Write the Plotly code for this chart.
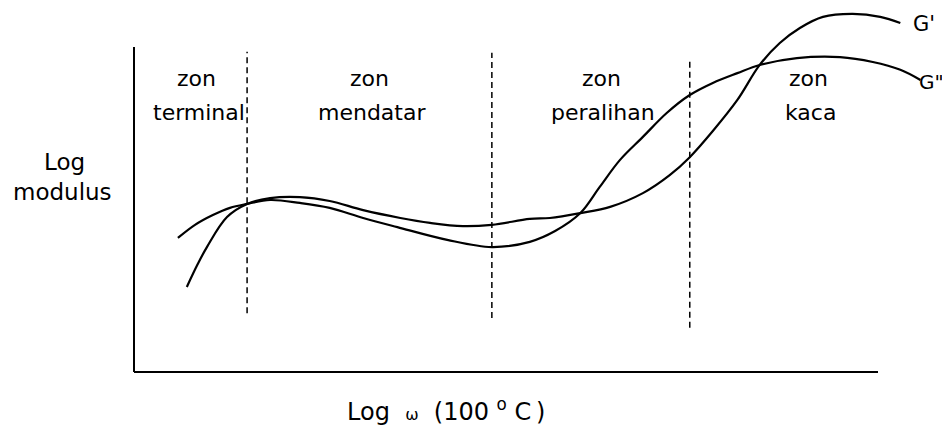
import plotly.graph_objects as go

# ---- data (arbitrary units: x = Log omega, y = Log modulus) ----
g1_x = [0.71, 0.85, 0.98, 1.25, 1.52, 1.83, 2.23, 2.63, 3.08, 3.58, 3.98, 4.42, 4.81,
        5.32, 5.59, 6.00, 6.40, 6.84, 7.20, 7.47, 7.78, 8.11, 8.41, 8.68, 8.95, 9.26,
        9.66, 10.03, 10.30]
g1_y = [2.60, 3.27, 3.82, 4.74, 5.14, 5.32, 5.35, 5.23, 4.95, 4.71, 4.56, 4.46, 4.50,
        4.68, 4.71, 4.86, 5.05, 5.47, 6.02, 6.57, 7.37, 8.32, 9.39, 10.06, 10.52, 10.86,
        10.95, 10.86, 10.67]

g2_x = [0.59, 0.82, 1.06, 1.29, 1.52, 1.83, 2.23, 2.63, 3.08, 3.54, 4.21, 4.81, 5.32,
        5.66, 6.00, 6.26, 6.53, 6.84, 7.16, 7.47, 7.78, 8.11, 8.41, 8.91, 9.49, 9.93,
        10.30, 10.57]
g2_y = [4.10, 4.50, 4.80, 5.02, 5.14, 5.26, 5.17, 5.02, 4.71, 4.43, 4.04, 3.82, 3.98,
        4.31, 4.86, 5.66, 6.48, 7.19, 7.92, 8.47, 8.84, 9.14, 9.39, 9.60, 9.63, 9.48,
        9.24, 8.93]

boundary_x = [1.52, 4.81, 7.47]
boundary_top = [9.79, 9.76, 9.54]
boundary_bottom = [1.80, 1.65, 1.35]

zone_top = ["zon", "zon", "zon", "zon"]
zone_bottom = ["terminal", "mendatar", "peralihan", "kaca"]
zone_x = [0.84, 3.17, 6.28, 9.06]

curve_names = ["G'", 'G"']

# ---- geometry (page has an 8px body margin) ----
OFF = 8
W, H = 950 - OFF, 429 - OFF
PX_X, PX_Y = 74.4, 32.7           # pixels per data unit
AX_X, AX_Y = 134, 372             # page pixel of the origin


def dx(px):
    return (px - AX_X) / PX_X


def dy(py):
    return (AX_Y - py) / PX_Y


def paper(px, py):
    return (px - OFF) / W, 1 - (py - OFF) / H


xr = [dx(OFF), dx(950)]
yr = [dy(429), dy(OFF)]

FONT = "DejaVu Sans"
fig = go.Figure()

for xs, ys in [(g1_x, g1_y), (g2_x, g2_y)]:
    fig.add_trace(go.Scatter(x=xs, y=ys, mode="lines",
                             line=dict(color="black", width=2.2, shape="spline", smoothing=1.0),
                             showlegend=False, hoverinfo="skip"))

for bx, bt, bb in zip(boundary_x, boundary_top, boundary_bottom):
    fig.add_trace(go.Scatter(x=[bx, bx], y=[bb, bt], mode="lines",
                             line=dict(color="black", width=1.5, dash="6px,4px"),
                             showlegend=False, hoverinfo="skip"))

# axes lines
fig.add_shape(type="line", x0=0, x1=0, y0=0, y1=dy(47), line=dict(color="black", width=2))
fig.add_shape(type="line", x0=0, x1=dx(878), y0=0, y1=0, line=dict(color="black", width=2))

# zone labels
for zx, t1, t2 in zip(zone_x, zone_top, zone_bottom):
    fig.add_annotation(x=zx, y=dy(78), text=t1, showarrow=False, xanchor="center",
                       font=dict(family=FONT, size=22, color="black"), yanchor="middle")
    fig.add_annotation(x=zx + 0.03, y=dy(112), text=t2, showarrow=False, xanchor="center",
                       font=dict(family=FONT, size=22, color="black"), yanchor="middle")

# curve labels
fig.add_annotation(x=g1_x[-1], y=g1_y[-1], text=curve_names[0], showarrow=False,
                   xanchor="left", yanchor="middle", xshift=11, yshift=-1,
                   font=dict(family=FONT, size=21, color="black"))
fig.add_annotation(x=g2_x[-1], y=g2_y[-1], text=curve_names[1], showarrow=False,
                   xanchor="left", yanchor="middle", xshift=-3, yshift=-2,
                   font=dict(family=FONT, size=20, color="black"))

# axis titles
px_, py_ = paper(64, 162)
fig.add_annotation(xref="paper", yref="paper", x=px_, y=py_, text="Log",
                   xanchor="center", yanchor="middle",
                   showarrow=False, font=dict(family=FONT, size=23, color="black"))
px_, py_ = paper(62, 192)
fig.add_annotation(xref="paper", yref="paper", x=px_, y=py_, text="modulus",
                   xanchor="center", yanchor="middle",
                   showarrow=False, font=dict(family=FONT, size=23, color="black"))
px_, py_ = paper(446, 410)
fig.add_annotation(xref="paper", yref="paper", x=px_, y=py_,
                   text="Log\u00a0 <span style='font-size:16px'>ω</span>\u00a0 (100 "
                        "<sup>o</sup> C\u2009)",
                   xanchor="center", yanchor="middle",
                   showarrow=False, font=dict(family=FONT, size=24, color="black"))

fig.update_xaxes(range=xr, visible=False, fixedrange=True)
fig.update_yaxes(range=yr, visible=False, fixedrange=True)
fig.update_layout(width=W, height=H, margin=dict(l=0, r=0, t=0, b=0),
                  paper_bgcolor="white", plot_bgcolor="white")

fig.write_html("out.html")
